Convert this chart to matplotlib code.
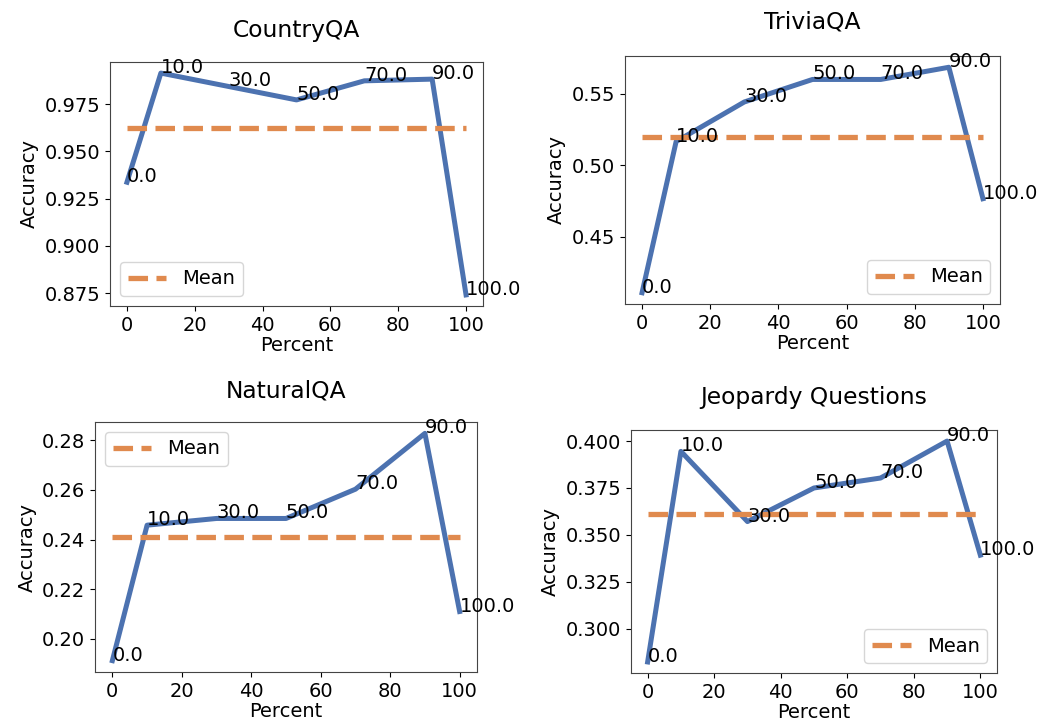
import matplotlib
matplotlib.use("Agg")
import matplotlib.pyplot as plt

percent = [0, 10, 30, 50, 70, 90, 100]
country_acc = [0.9337, 0.9915, 0.9844, 0.9773, 0.9874, 0.9883, 0.8740]
trivia_acc = [0.4111, 0.5166, 0.5442, 0.5599, 0.5599, 0.5684, 0.4767]
natural_acc = [0.1912, 0.2458, 0.2485, 0.2485, 0.2603, 0.2828, 0.2110]
jeopardy_acc = [0.2823, 0.3945, 0.3571, 0.3750, 0.3803, 0.4000, 0.3392]
titles = ["CountryQA", "TriviaQA", "NaturalQA", "Jeopardy Questions"]
series = [country_acc, trivia_acc, natural_acc, jeopardy_acc]
legend_locs = ["lower left", "lower right", "upper left", "lower right"]

plt.rcParams["font.family"] = "DejaVu Sans"
plt.rcParams["font.size"] = 14

W, H = 1053, 721
fig = plt.figure(figsize=(W / 100, H / 100), dpi=100)

# axes boxes in pixels: left, right, top, bottom
boxes = [(110, 483, 62, 306), (625, 1000, 56, 304),
         (95, 477, 422, 672), (631, 997, 430, 673)]
pads = [18, 20, 18, 19]

blue = "#4C72B0"
orange = "#E08A4E"

for (l, r, t, b), title, acc, loc, pad in zip(boxes, titles, series, legend_locs, pads):
    ax = fig.add_axes([l / W, 1 - b / H, (r - l) / W, (b - t) / H])
    ax.plot(percent, acc, color=blue, lw=3.6)
    mean = sum(acc) / len(acc)
    ax.plot([percent[0], percent[-1]], [mean, mean], color=orange, lw=3.8,
            ls="--", label="Mean")
    for x, y in zip(percent, acc):
        ax.text(x, y, f"{float(x):.1f}", fontsize=14)
    ax.set_title(title, pad=pad, fontsize=16.8)
    ax.set_xlabel("Percent", labelpad=1)
    ax.set_ylabel("Accuracy")
    ax.set_xticks([0, 20, 40, 60, 80, 100])
    ax.legend(loc=loc)
    for s in ax.spines.values():
        s.set_color("#444444")

fig.savefig("out.png", dpi=100)
